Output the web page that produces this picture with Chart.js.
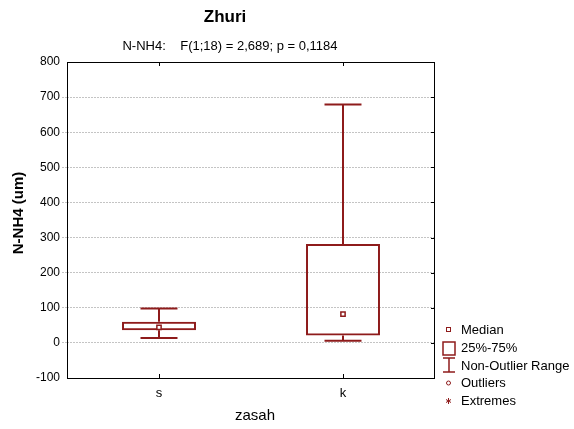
<!DOCTYPE html>
<html>
<head>
<meta charset="utf-8">
<script src="https://cdn.jsdelivr.net/npm/chart.js@4/dist/chart.umd.min.js"></script>
<style>
html,body{margin:0;padding:0;background:#fff;}
#wrap{width:574px;height:429px;position:relative;}
</style>
</head>
<body>
<div id="wrap"><canvas id="c" width="574" height="429"></canvas></div>
<script>
// ---- data ----
const categories = ['s', 'k'];
const whiskerLow = [14, 6];
const q1 = [36, 21];
const medians = [44, 82];
const q3 = [60, 282];
const whiskerHigh = [98, 679];
const yTicks = [-100, 0, 100, 200, 300, 400, 500, 600, 700, 800];

const titleText = 'Zhuri';
const subtitleText = 'N-NH4:    F(1;18) = 2,689; p = 0,1184';
const xTitle = 'zasah';
const yTitle = 'N-NH4 (um)';
const legendLabels = ['Median', '25%-75%', 'Non-Outlier Range', 'Outliers', 'Extremes'];

const RED = '#8e1b1b';
const FONT = '"Liberation Sans", Arial, sans-serif';

const boxPlugin = {
  id: 'boxExtras',
  beforeDatasetsDraw(chart) {
    const {ctx, scales:{x, y}} = chart;
    const meta = chart.getDatasetMeta(0);
    ctx.save();
    ctx.strokeStyle = RED;
    ctx.lineWidth = 2;
    categories.forEach((c, i) => {
      const cx = x.getPixelForValue(i);
      const bw = meta.data[i].width;
      const cap = bw / 2;
      const yHi = y.getPixelForValue(whiskerHigh[i]);
      const yQ3 = y.getPixelForValue(q3[i]);
      const yQ1 = y.getPixelForValue(q1[i]);
      const yLo = y.getPixelForValue(whiskerLow[i]);
      ctx.beginPath();
      ctx.moveTo(cx, yHi); ctx.lineTo(cx, yQ3);
      ctx.moveTo(cx, yQ1); ctx.lineTo(cx, yLo);
      ctx.moveTo(cx - cap/2, yHi); ctx.lineTo(cx + cap/2, yHi);
      ctx.moveTo(cx - cap/2, yLo); ctx.lineTo(cx + cap/2, yLo);
      ctx.stroke();
    });
    ctx.restore();
  },
  afterDraw(chart) {
    const {ctx, chartArea:a, scales:{x, y}} = chart;
    ctx.save();
    // frame
    ctx.strokeStyle = '#000';
    ctx.lineWidth = 1;
    ctx.strokeRect(a.left + 0.5, a.top + 0.5, a.right - a.left - 1, a.bottom - a.top);
    // inner ticks: right axis
    ctx.beginPath();
    yTicks.forEach(v => {
      const py = Math.round(y.getPixelForValue(v)) + 0.5;
      ctx.moveTo(a.right - 4, py); ctx.lineTo(a.right, py);
    });
    // inner ticks: top/bottom
    categories.forEach((c, i) => {
      const px = Math.round(x.getPixelForValue(i)) + 0.5;
      ctx.moveTo(px, a.top); ctx.lineTo(px, a.top + 4);
      ctx.moveTo(px, a.bottom); ctx.lineTo(px, a.bottom - 4);
    });
    ctx.stroke();

    // titles
    ctx.fillStyle = '#000';
    ctx.textAlign = 'center';
    ctx.textBaseline = 'middle';
    ctx.font = 'bold 17px ' + FONT;
    ctx.fillText(titleText, 225, 17);
    ctx.font = '13px ' + FONT;
    ctx.fillText(subtitleText, 230, 46);
    ctx.font = '15px ' + FONT;
    ctx.fillText(xTitle, 255, 416);
    ctx.save();
    ctx.translate(19, 213);
    ctx.rotate(-Math.PI / 2);
    ctx.font = 'bold 15px ' + FONT;
    ctx.fillText(yTitle, 0, 0);
    ctx.restore();

    // legend
    ctx.textAlign = 'left';
    ctx.font = '13px ' + FONT;
    const ly = [330, 348, 366, 383, 401];
    legendLabels.forEach((t, i) => ctx.fillText(t, 461, ly[i]));
    ctx.strokeStyle = RED;
    ctx.lineWidth = 1;
    // median square
    ctx.strokeRect(446.5, 327.5, 4, 4);
    // box
    ctx.lineWidth = 1.5;
    ctx.strokeRect(443, 342, 12, 13);
    // whisker
    ctx.beginPath();
    ctx.moveTo(449, 358); ctx.lineTo(449, 372);
    ctx.moveTo(443, 358); ctx.lineTo(455, 358);
    ctx.moveTo(443, 372); ctx.lineTo(455, 372);
    ctx.stroke();
    // outlier circle
    ctx.lineWidth = 1;
    ctx.beginPath();
    ctx.arc(448.5, 383, 2, 0, Math.PI * 2);
    ctx.stroke();
    // extreme asterisk
    ctx.beginPath();
    ctx.moveTo(448.5, 398); ctx.lineTo(448.5, 404);
    ctx.moveTo(446, 399.5); ctx.lineTo(451, 402.5);
    ctx.moveTo(446, 402.5); ctx.lineTo(451, 399.5);
    ctx.stroke();
    ctx.restore();
  }
};

new Chart(document.getElementById('c'), {
  type: 'bar',
  data: {
    labels: categories,
    datasets: [
      {
        type: 'bar',
        data: categories.map((c, i) => [q1[i], q3[i]]),
        backgroundColor: 'rgba(255,255,255,0)',
        borderColor: RED,
        borderWidth: 2,
        borderSkipped: false,
        barPercentage: 0.402,
        categoryPercentage: 1,
        order: 2
      },
      {
        type: 'line',
        data: medians,
        showLine: false,
        pointStyle: 'rect',
        pointRadius: 3,
        pointBorderWidth: 1.5,
        pointBorderColor: RED,
        pointBackgroundColor: '#fff',
        order: 1
      }
    ]
  },
  options: {
    responsive: false,
    animation: false,
    devicePixelRatio: 1,
    layout: { padding: { top: 62, right: 139, left: 0, bottom: 0 } },
    plugins: { legend: { display: false }, tooltip: { enabled: false }, title: { display: false } },
    scales: {
      x: {
        offset: true,
        grid: { display: false, drawTicks: false },
        border: { display: false },
        ticks: { color: '#000', font: { size: 13, family: FONT }, padding: 8 },
        afterFit: s => { s.height = 51; }
      },
      y: {
        min: -100, max: 800,
        afterBuildTicks: s => { s.ticks = yTicks.map(v => ({ value: v })); },
        grid: {
          color: ctx => (ctx.tick && (ctx.tick.value === -100 || ctx.tick.value === 800)) ? 'rgba(0,0,0,0)' : '#c4c4c4',
          tickColor: ctx => (ctx.tick && (ctx.tick.value === -100 || ctx.tick.value === 800)) ? 'rgba(0,0,0,0)' : '#c4c4c4',
          tickLength: 5,
          tickBorderDash: [2, 1]
        },
        border: { display: false, dash: [2, 1] },
        ticks: { color: '#000', font: { size: 12, family: FONT }, padding: 2 },
        afterFit: s => { s.width = 67; }
      }
    }
  },
  plugins: [boxPlugin]
});
</script>
</body>
</html>
